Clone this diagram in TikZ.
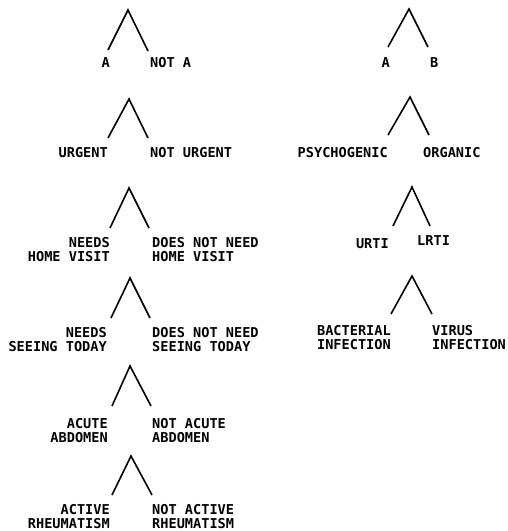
\documentclass[tikz,border=0pt]{standalone}
\usepackage{fontspec}
\setmonofont{DejaVu Sans Mono}
\begin{document}
\begin{tikzpicture}[x=1pt,y=-1pt,
  leg/.style={line width=1.6pt},
  lab/.style={font=\ttfamily\bfseries\fontsize{13.6}{14}\selectfont, inner sep=0pt},
  labl/.style={lab, anchor=north east, align=right},
  labr/.style={lab, anchor=north west, align=left}]
\useasboundingbox (0,0) rectangle (507,531);
% ---------- left column ----------
% tree 1
\coordinate (t1) at (128,10);
\coordinate (t1l) at (108,50);
\coordinate (t1r) at (148,51);
\draw[leg] (t1l) -- (t1) -- (t1r);
\node[labl] (a1) at (110,57) {A};
\node[labr] (na1) at (150,57) {NOT A};
% tree 2
\coordinate (t2) at (129,99);
\coordinate (t2l) at (108,138);
\coordinate (t2r) at (148,138);
\draw[leg] (t2l) -- (t2) -- (t2r);
\node[labl] (urg) at (108,147) {URGENT};
\node[labr] (nurg) at (150,147) {NOT URGENT};
% tree 3
\coordinate (t3) at (129,188);
\coordinate (t3l) at (110,228);
\coordinate (t3r) at (149,228);
\draw[leg] (t3l) -- (t3) -- (t3r);
\node[labl] (hv) at (110,237) {NEEDS\\HOME VISIT};
\node[labr] (nhv) at (152,237) {DOES NOT NEED\\HOME VISIT};
% tree 4
\coordinate (t4) at (130,278);
\coordinate (t4l) at (111,318);
\coordinate (t4r) at (150,318);
\draw[leg] (t4l) -- (t4) -- (t4r);
\node[labl] (st) at (107,327) {NEEDS\\SEEING TODAY};
\node[labr] (nst) at (152,327) {DOES NOT NEED\\SEEING TODAY};
% tree 5
\coordinate (t5) at (130,366);
\coordinate (t5l) at (112,406);
\coordinate (t5r) at (151,406);
\draw[leg] (t5l) -- (t5) -- (t5r);
\node[labl] (ab) at (108,418) {ACUTE\\ABDOMEN};
\node[labr] (nab) at (152,418) {NOT ACUTE\\ABDOMEN};
% tree 6
\coordinate (t6) at (131,456);
\coordinate (t6l) at (112,495);
\coordinate (t6r) at (152,495);
\draw[leg] (t6l) -- (t6) -- (t6r);
\node[labl] (rh) at (110,504) {ACTIVE\\RHEUMATISM};
\node[labr] (nrh) at (152,504) {NOT ACTIVE\\RHEUMATISM};
% ---------- right column ----------
% tree R1
\coordinate (r1) at (409,9);
\coordinate (r1l) at (388,47);
\coordinate (r1r) at (428,47);
\draw[leg] (r1l) -- (r1) -- (r1r);
\node[labl] (ra) at (390,57) {A};
\node[labr] (rb) at (430,57) {B};
% tree R2
\coordinate (r2) at (410,97);
\coordinate (r2l) at (388,135);
\coordinate (r2r) at (429,135);
\draw[leg] (r2l) -- (r2) -- (r2r);
\node[labl] (psy) at (388,147) {PSYCHOGENIC};
\node[labr] (org) at (423,147) {ORGANIC};
% tree R3
\coordinate (r3) at (412,187);
\coordinate (r3l) at (393,226);
\coordinate (r3r) at (430,226);
\draw[leg] (r3l) -- (r3) -- (r3r);
\node[labl] (urti) at (389,238) {URTI};
\node[labr] (lrti) at (417,235) {LRTI};
% tree R4
\coordinate (r4) at (412,276);
\coordinate (r4l) at (391,314);
\coordinate (r4r) at (432,314);
\draw[leg] (r4l) -- (r4) -- (r4r);
\node[labl] (bac) at (391,325) {BACTERIAL\\INFECTION};
\node[labr] (vir) at (432,325) {VIRUS\\INFECTION};
\end{tikzpicture}
\end{document}
